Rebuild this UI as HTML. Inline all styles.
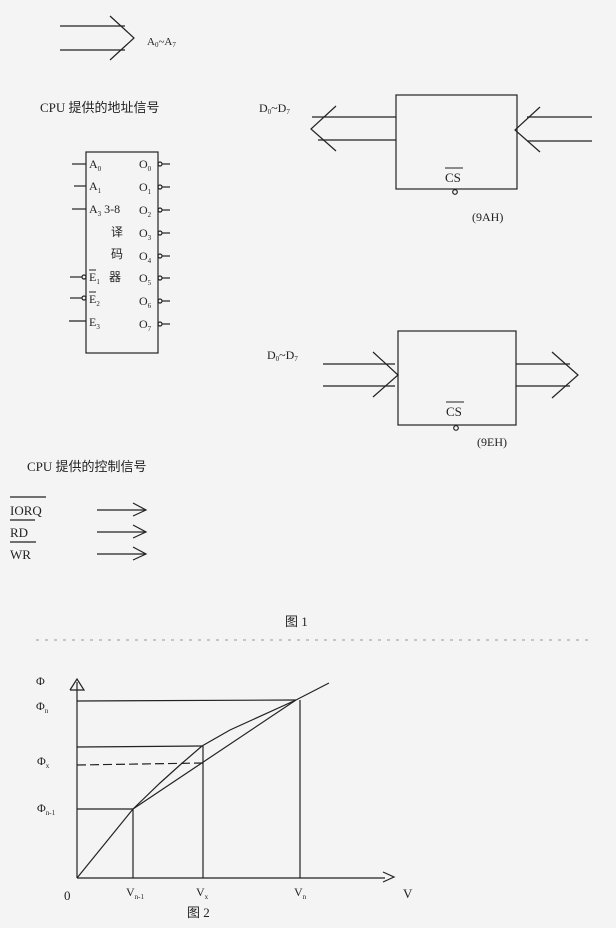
<!DOCTYPE html>
<html><head><meta charset="utf-8"><style>
html,body{margin:0;padding:0;background:#f4f4f4;}
svg{display:block;}
text{font-family:"Liberation Serif","Noto Serif CJK SC",serif;fill:#222;}
.cj{font-family:"Liberation Serif","Noto Sans CJK SC",sans-serif;}
</style></head><body>
<svg width="616" height="928" viewBox="0 0 616 928" xmlns="http://www.w3.org/2000/svg">
<rect width="616" height="928" fill="#f4f4f4"/>
<g stroke="#222" stroke-width="1.2" fill="none">
<!-- top arrow -->
<line x1="60" y1="26" x2="125" y2="26"/><line x1="60" y1="50" x2="125" y2="50"/>
<polyline points="110,16 134,38 110,60"/>
<!-- box 1 -->
<rect x="396" y="95" width="121" height="94"/>
<line x1="312" y1="117" x2="396" y2="117"/><line x1="318" y1="140" x2="396" y2="140"/>
<polyline points="336,106 311,129 336,151"/>
<line x1="527" y1="117" x2="592" y2="117"/><line x1="527" y1="141" x2="592" y2="141"/>
<polyline points="540,107 515,130 540,152"/>
<circle cx="455" cy="192" r="2.3"/>
<!-- box 2 -->
<rect x="398" y="331" width="118" height="94"/>
<line x1="323" y1="364" x2="395" y2="364"/><line x1="323" y1="386" x2="395" y2="386"/>
<polyline points="373,352 398,375 373,397"/>
<line x1="516" y1="364" x2="570" y2="364"/><line x1="516" y1="386" x2="570" y2="386"/>
<polyline points="552,352 578,375 552,398"/>
<circle cx="456" cy="428" r="2.3"/>
<!-- decoder -->
<rect x="86" y="152" width="72" height="201"/>
<line x1="72" y1="164" x2="86" y2="164"/>
<line x1="74" y1="186" x2="86" y2="186"/>
<line x1="72" y1="209" x2="86" y2="209"/>
<line x1="70" y1="277" x2="82" y2="277"/><circle cx="84" cy="277" r="2"/>
<line x1="70" y1="298" x2="82" y2="298"/><circle cx="84" cy="298" r="2"/>
<line x1="69" y1="321" x2="86" y2="321"/>
<g>
<circle cx="160" cy="164" r="2"/><line x1="162" y1="164" x2="170" y2="164"/>
<circle cx="160" cy="187" r="2"/><line x1="162" y1="187" x2="170" y2="187"/>
<circle cx="160" cy="210" r="2"/><line x1="162" y1="210" x2="170" y2="210"/>
<circle cx="160" cy="233" r="2"/><line x1="162" y1="233" x2="170" y2="233"/>
<circle cx="160" cy="256" r="2"/><line x1="162" y1="256" x2="170" y2="256"/>
<circle cx="160" cy="278" r="2"/><line x1="162" y1="278" x2="170" y2="278"/>
<circle cx="160" cy="301" r="2"/><line x1="162" y1="301" x2="170" y2="301"/>
<circle cx="160" cy="324" r="2"/><line x1="162" y1="324" x2="170" y2="324"/>
</g>
<!-- control arrows -->
<line x1="97" y1="510" x2="145" y2="510"/><polyline points="133,503 146,510 133,516"/>
<line x1="97" y1="532" x2="145" y2="532"/><polyline points="133,525 146,532 133,538"/>
<line x1="97" y1="554" x2="145" y2="554"/><polyline points="133,547 146,554 133,560"/>
<line x1="10" y1="497" x2="46" y2="497"/>
<line x1="10" y1="520" x2="35" y2="520"/>
<line x1="10" y1="542" x2="36" y2="542"/>
<!-- fig2 -->
<line x1="77" y1="878" x2="77" y2="682"/>
<polyline points="70,690 77,679 84,690 70,690"/>
<line x1="77" y1="878" x2="385" y2="878"/>
<polyline points="383,872 394,877 383,882"/>
<line x1="77" y1="701" x2="296" y2="700"/>
<line x1="300" y1="700" x2="300" y2="878"/>
<line x1="77" y1="747" x2="202" y2="746"/>
<line x1="203" y1="746" x2="203" y2="878"/>
<line x1="77" y1="765" x2="203" y2="763" stroke-dasharray="9,4"/>
<line x1="77" y1="809" x2="133" y2="809"/>
<line x1="133" y1="809" x2="133" y2="878"/>
<line x1="77" y1="878" x2="133" y2="809"/>
<polyline points="133,809 160,783 180,765 202,746 230,730 296,700 329,683"/>
<line x1="133" y1="809" x2="296" y2="700"/>
</g>
<!-- dashed faint line -->
<line x1="36" y1="640" x2="590" y2="640" stroke="#999" stroke-width="1" stroke-dasharray="3,6"/>
<!-- texts -->
<text x="147" y="45" font-size="11">A<tspan font-size="7" dy="2">0</tspan><tspan dy="-2">~A</tspan><tspan font-size="7" dy="2">7</tspan></text>
<text x="40" y="112" font-size="13" class="cj">CPU 提供的地址信号</text>
<text x="259" y="112" font-size="12">D<tspan font-size="7" dy="2">0</tspan><tspan dy="-2">~D</tspan><tspan font-size="7" dy="2">7</tspan></text>
<text x="445" y="182" font-size="13">CS</text><line x1="445" y1="168" x2="463" y2="168" stroke="#222"/>
<text x="472" y="221" font-size="12">(9AH)</text>
<text x="267" y="359" font-size="12">D<tspan font-size="7" dy="2">0</tspan><tspan dy="-2">~D</tspan><tspan font-size="7" dy="2">7</tspan></text>
<text x="446" y="416" font-size="13">CS</text><line x1="446" y1="402" x2="464" y2="402" stroke="#222"/>
<text x="477" y="446" font-size="12">(9EH)</text>
<g font-size="12">
<text x="89" y="168">A<tspan font-size="7" dy="3">0</tspan></text>
<text x="89" y="190">A<tspan font-size="7" dy="3">1</tspan></text>
<text x="89" y="213">A<tspan font-size="7" dy="3">3</tspan><tspan dy="-3"> 3-8</tspan></text>
<text x="111" y="236" class="cj">译</text>
<text x="111" y="258" class="cj">码</text>
<text x="109" y="281" class="cj">器</text>
<text x="89" y="281">E<tspan font-size="7" dy="3">1</tspan></text><line x1="89" y1="270" x2="96" y2="270" stroke="#222"/>
<text x="89" y="303">E<tspan font-size="7" dy="3">2</tspan></text><line x1="89" y1="292" x2="96" y2="292" stroke="#222"/>
<text x="89" y="326">E<tspan font-size="7" dy="3">3</tspan></text>
<text x="139" y="168">O<tspan font-size="7" dy="3">0</tspan></text>
<text x="139" y="191">O<tspan font-size="7" dy="3">1</tspan></text>
<text x="139" y="214">O<tspan font-size="7" dy="3">2</tspan></text>
<text x="139" y="237">O<tspan font-size="7" dy="3">3</tspan></text>
<text x="139" y="260">O<tspan font-size="7" dy="3">4</tspan></text>
<text x="139" y="282">O<tspan font-size="7" dy="3">5</tspan></text>
<text x="139" y="305">O<tspan font-size="7" dy="3">6</tspan></text>
<text x="139" y="328">O<tspan font-size="7" dy="3">7</tspan></text>
</g>
<text x="27" y="471" font-size="13" class="cj">CPU 提供的控制信号</text>
<text x="10" y="515" font-size="13">IORQ</text>
<text x="10" y="537" font-size="13">RD</text>
<text x="10" y="559" font-size="13">WR</text>
<text x="285" y="626" font-size="13" class="cj">图 1</text>
<g font-size="12">
<text x="36" y="685">Φ</text>
<text x="36" y="710">Φ<tspan font-size="7" dy="3">n</tspan></text>
<text x="37" y="765">Φ<tspan font-size="7" dy="3">x</tspan></text>
<text x="37" y="812">Φ<tspan font-size="7" dy="3">n-1</tspan></text>
<text x="64" y="900" font-size="13">0</text>
<text x="126" y="896">V<tspan font-size="7" dy="3">n-1</tspan></text>
<text x="196" y="896">V<tspan font-size="7" dy="3">x</tspan></text>
<text x="294" y="896">V<tspan font-size="7" dy="3">n</tspan></text>
<text x="403" y="898" font-size="13">V</text>
<text x="187" y="917" font-size="13" class="cj">图 2</text>
</g>
</svg>
</body></html>
